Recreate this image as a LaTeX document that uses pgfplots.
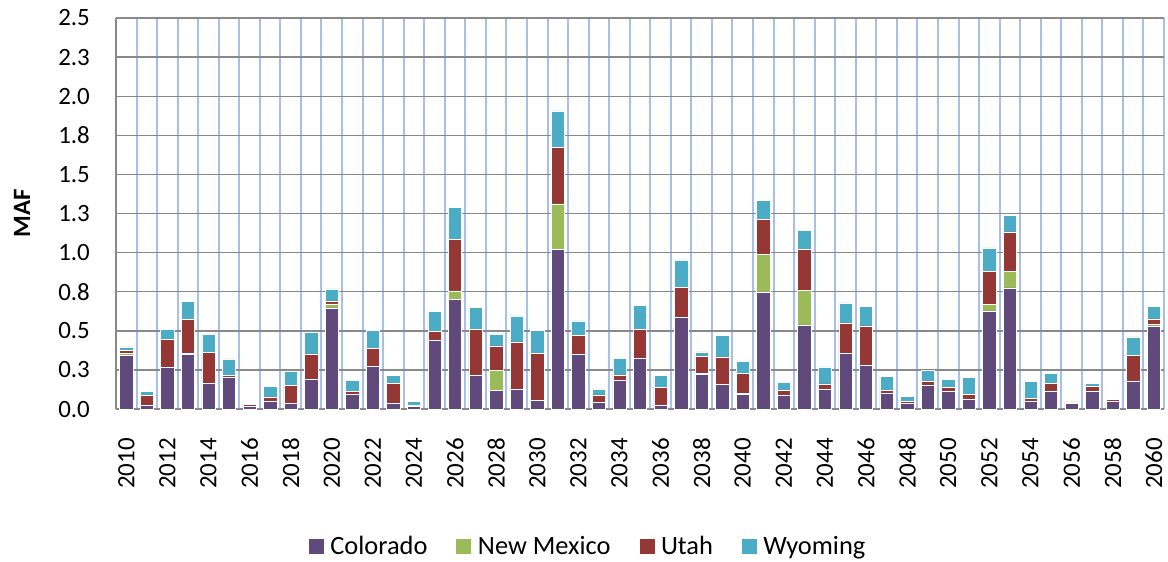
\documentclass[border=0pt]{standalone}
\usepackage{fontspec}
\setmainfont{Carlito}
\usepackage{pgfplots}
\usepackage{pgfplotstable}
\pgfplotsset{compat=1.18}
\definecolor{colC}{HTML}{604A7B}
\definecolor{colNM}{HTML}{9BBB59}
\definecolor{colU}{HTML}{953735}
\definecolor{colW}{HTML}{4BACC6}
\definecolor{hgrid}{HTML}{898989}
\definecolor{vgrid}{HTML}{A6C0E9}
\pgfplotstableread{
year C NM U W
2010 0.345 0.010 0.022 0.021
2011 0.023 0 0.062 0.030
2012 0.266 0 0.181 0.064
2013 0.349 0.006 0.217 0.117
2014 0.164 0 0.198 0.115
2015 0.204 0 0.011 0.106
2016 0.017 0 0.015 0
2017 0.051 0 0.026 0.066
2018 0.036 0 0.113 0.091
2019 0.189 0 0.164 0.141
2020 0.647 0.025 0.019 0.077
2021 0.094 0 0.017 0.074
2022 0.274 0 0.115 0.115
2023 0.036 0 0.126 0.053
2024 0.015 0 0.008 0.028
2025 0.440 0 0.058 0.128
2026 0.702 0.053 0.332 0.202
2027 0.215 0 0.294 0.142
2028 0.117 0.128 0.159 0.075
2029 0.128 0 0.302 0.166
2030 0.057 0 0.298 0.147
2031 1.019 0.292 0.363 0.232
2032 0.349 0 0.121 0.094
2033 0.043 0 0.048 0.037
2034 0.185 0 0.034 0.104
2035 0.323 0 0.186 0.153
2036 0.023 0 0.115 0.079
2037 0.585 0 0.192 0.176
2038 0.223 0.004 0.113 0.026
2039 0.157 0 0.177 0.136
2040 0.094 0.006 0.128 0.078
2041 0.749 0.240 0.224 0.123
2042 0.085 0 0.032 0.053
2043 0.538 0.219 0.266 0.120
2044 0.126 0 0.034 0.110
2045 0.355 0 0.196 0.128
2046 0.279 0 0.253 0.125
2047 0.100 0 0.019 0.090
2048 0.036 0 0.015 0.028
2049 0.151 0 0.026 0.068
2050 0.113 0 0.025 0.053
2051 0.062 0 0.032 0.106
2052 0.628 0.042 0.211 0.149
2053 0.774 0.107 0.251 0.104
2054 0.047 0 0.021 0.111
2055 0.115 0 0.047 0.066
2056 0.034 0 0.011 0
2057 0.115 0 0.028 0.021
2058 0.049 0 0.011 0.004
2059 0.177 0 0.166 0.119
2060 0.532 0.011 0.034 0.078
}\data
\pgfplotsset{sqlegend/.style={legend image code/.code={\fill[##1] (0bp,-8bp) rectangle (16bp,8bp); \path (20bp,0bp);}}}
\begin{document}
\begin{tikzpicture}
\begin{axis}[
  scale only axis, width=1048bp, height=391bp,
  ybar stacked, bar width=0.65,
  xmin=2009.5, xmax=2060.5, ymin=0, ymax=2.5,
  xtick={2010,2012,...,2060},
  minor xtick={2009.5,2010.5,...,2060.5},
  ytick={0,0.25,...,2.5},
  yticklabels={0.0,0.3,0.5,0.8,1.0,1.3,1.5,1.8,2.0,2.3,2.5},
  /pgf/number format/assume math mode=true,
  /pgf/number format/1000 sep={},
  major tick length=0pt, minor tick length=0pt,
  axis x line*=bottom, axis y line*=left,
  axis line style={draw=hgrid, line width=1.5bp, -},
  ymajorgrids, xminorgrids,
  major grid style={draw=hgrid, line width=1.4bp},
  minor grid style={draw=vgrid, line width=2bp},
  tick label style={font=\fontsize{25}{30}\selectfont, text=black},
  xticklabel style={rotate=90, anchor=east, inner xsep=29bp},
  yticklabel style={inner xsep=26bp},
  ylabel={MAF},
  ylabel style={font=\fontsize{25}{30}\selectfont\bfseries, at={(axis description cs:-0.0897,0.5)}, anchor=center},
  legend columns=-1,
  legend style={draw=none, fill=none, at={(axis description cs:0.450,-0.350)}, anchor=center,
    font=\fontsize{26.5}{31}\selectfont, /tikz/every even column/.append style={column sep=26bp}},
]
\addplot[fill=colC, draw=white, line width=0.5bp, sqlegend] table[x=year, y=C] {\data};
\addlegendentry{Colorado}
\addplot[fill=colNM, draw=white, line width=0.5bp, sqlegend] table[x=year, y=NM] {\data};
\addlegendentry{New Mexico}
\addplot[fill=colU, draw=white, line width=0.5bp, sqlegend] table[x=year, y=U] {\data};
\addlegendentry{Utah}
\addplot[fill=colW, draw=white, line width=0.5bp, sqlegend] table[x=year, y=W] {\data};
\addlegendentry{Wyoming}
\coordinate (O) at (rel axis cs:0,0);
\coordinate (T) at (rel axis cs:1,1);
\end{axis}
\pgfresetboundingbox
\path ([shift={(-116bp,-152bp)}]O) rectangle ([shift={(4bp,18bp)}]T);
\end{tikzpicture}
\end{document}
